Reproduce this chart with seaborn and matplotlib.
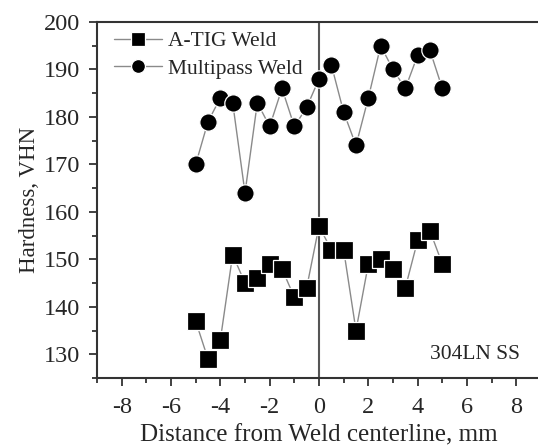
import matplotlib
matplotlib.use("Agg")
import matplotlib.pyplot as plt
import seaborn as sns
import pandas as pd
from matplotlib.ticker import MultipleLocator

distance = [-5, -4.5, -4, -3.5, -3, -2.5, -2, -1.5, -1, -0.5, 0,
            0.5, 1, 1.5, 2, 2.5, 3, 3.5, 4, 4.5, 5]
atig = [137, 129, 133, 151, 145, 146, 149, 148, 142, 144, 157,
        152, 152, 135, 149, 150, 148, 144, 154, 156, 149]
multipass = [170, 179, 184, 183, 164, 183, 178, 186, 178, 182, 188,
             191, 181, 174, 184, 195, 190, 186, 193, 194, 186]
series_names = ["A-TIG Weld", "Multipass Weld"]

sns.set_theme(style="white")
plt.rcParams['font.family'] = ['Liberation Serif', 'DejaVu Serif']
plt.rcParams['axes.unicode_minus'] = False

fig = plt.figure(figsize=(5.38, 4.46), dpi=100)
ax = fig.add_axes([97/538, 1 - 378/446, (541 - 97)/538, (378 - 22)/446])

df_a = pd.DataFrame({"x": distance, "y": atig})
df_m = pd.DataFrame({"x": distance, "y": multipass})

common = dict(color="#8a8a8a", linewidth=1.0, markersize=12.5,
              markerfacecolor="black", markeredgecolor="white",
              markeredgewidth=0.9, ax=ax)
sns.lineplot(data=df_a, x="x", y="y", marker="s", label=series_names[0], **common)
sns.lineplot(data=df_m, x="x", y="y", marker="o", label=series_names[1], **common)

ax.axvline(0, color="#555555", linewidth=1.5, zorder=1)

ax.set_xlim(-9, 9)
ax.set_ylim(125, 200)
ax.xaxis.set_minor_locator(MultipleLocator(1))
ax.yaxis.set_minor_locator(MultipleLocator(5))
ax.set_yticks([130, 140, 150, 160, 170, 180, 190, 200])
ax.set_xticks([-8, -6, -4, -2, 0, 2, 4, 6, 8])

for s in ["left", "bottom", "top"]:
    ax.spines[s].set_color("#333333")
    ax.spines[s].set_linewidth(1.5)
ax.spines["right"].set_visible(False)

ax.tick_params(axis="x", which="major", pad=8)
ax.tick_params(axis="y", which="major", pad=6)
ax.tick_params(axis="both", which="major", direction="out", length=6, width=1.3,
               color="#333333", labelsize=17.5,
               bottom=True, left=True, top=False, right=False)
ax.tick_params(axis="both", which="minor", direction="out", length=3.5, width=1.3,
               color="#333333", bottom=True, left=True, top=False, right=False)

ax.set_xlabel("Distance from Weld centerline, mm", fontsize=18, labelpad=4)
ax.set_ylabel("Hardness, VHN", fontsize=16.5, labelpad=3)

ax.text(0.851, 0.065, "304LN SS", transform=ax.transAxes, fontsize=15.5,
        ha="center", va="center")

leg = ax.legend(loc="upper left", frameon=False, fontsize=15.5,
                handlelength=2.2, handletextpad=0.3, borderaxespad=0.35,
                labelspacing=0.35, markerscale=0.8,
                bbox_to_anchor=(0.003, 1.02))

fig.savefig("out.png", dpi=100)
